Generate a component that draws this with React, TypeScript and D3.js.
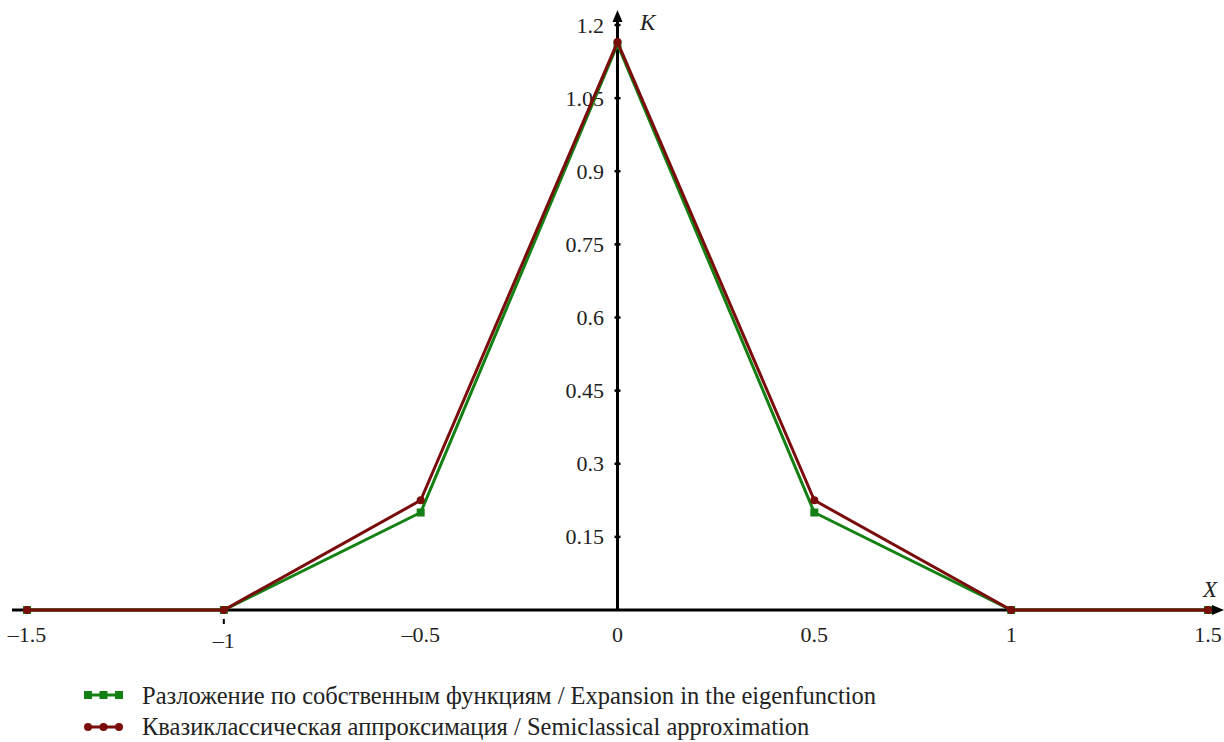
import * as d3 from "d3";

const xValues = [-1.5, -1, -0.5, 0, 0.5, 1, 1.5];
const eigenValues = [0, 0, 0.2, 1.16, 0.2, 0, 0];
const semiValues = [0, 0, 0.225, 1.165, 0.225, 0, 0];
const xTicks = [-1.5, -1, -0.5, 0, 0.5, 1, 1.5];
const yTicks = [0.15, 0.3, 0.45, 0.6, 0.75, 0.9, 1.05, 1.2];
const legendLabels = [
  "Разложение по собственным функциям / Expansion in the eigenfunction",
  "Квазиклассическая аппроксимация / Semiclassical approximation",
];

const width = 1224;
const height = 742;
const green = "#138013";
const red = "#7a0c0c";
const font = "Liberation Serif, DejaVu Serif, serif";

const fmt = (v: number) => (v < 0 ? "\u2013" + String(-v) : String(v));

export default function App() {
  const x = d3.scaleLinear().domain([-1.5, 1.5]).range([27, 1208]);
  const y = d3.scaleLinear().domain([0, 1.2]).range([610, 25]);

  const line = d3
    .line<number>()
    .x((_, i) => x(xValues[i]))
    .y((d) => y(d));

  const x0 = x(0);
  const y0 = y(0);

  return (
    <svg
      width={width}
      height={height}
      style={{ position: "absolute", left: 0, top: 0, background: "#fff", fontFamily: font }}
    >
      {/* x axis */}
      <line x1={12} x2={1214} y1={y0} y2={y0} stroke="#000" strokeWidth={3} />
      <path d={`M1224,${y0} L1212,${y0 - 5} L1212,${y0 + 5} Z`} fill="#000" />
      {/* y axis */}
      <line x1={x0} x2={x0} y1={y0} y2={18} stroke="#000" strokeWidth={3} />
      <path d={`M${x0},10 L${x0 - 5},22 L${x0 + 5},22 Z`} fill="#000" />

      {yTicks.map((t) => (
        <g key={t}>
          <line x1={x0 - 3} x2={x0 + 3} y1={y(t)} y2={y(t)} stroke="#000" strokeWidth={2.5} />
          <text
            x={604}
            y={y(t)}
            textAnchor="end"
            dominantBaseline="central"
            fontSize={22}
            fill="#222"
          >
            {fmt(t)}
          </text>
        </g>
      ))}

      {xTicks.map((t) => (
        <text
          key={t}
          x={x(t)}
          y={t === -1 ? 648 : 642}
          textAnchor="middle"
          fontSize={22}
          fill="#222"
        >
          {fmt(t)}
        </text>
      ))}
      <line x1={x(-1)} x2={x(-1)} y1={619} y2={624} stroke="#000" strokeWidth={2} />

      <text x={640} y={30} fontSize={23} fontStyle="italic" fill="#222">
        K
      </text>
      <text x={1203} y={597} fontSize={23} fontStyle="italic" fill="#222">
        X
      </text>

      {/* eigenfunction series */}
      <path d={line(eigenValues) ?? ""} fill="none" stroke={green} strokeWidth={3} />
      {eigenValues.map((v, i) => (
        <rect key={i} x={x(xValues[i]) - 4} y={y(v) - 4} width={8} height={8} fill={green} />
      ))}

      {/* semiclassical series */}
      <path d={line(semiValues) ?? ""} fill="none" stroke={red} strokeWidth={3} />
      {semiValues.map((v, i) => (
        <circle key={i} cx={x(xValues[i])} cy={y(v)} r={4} fill={red} />
      ))}

      {/* legend */}
      <g>
        <line x1={86} x2={121} y1={695} y2={695} stroke={green} strokeWidth={3} />
        {[88, 103.5, 119].map((cx) => (
          <rect key={cx} x={cx - 4} y={691} width={8} height={8} fill={green} />
        ))}
        <text x={142} y={704} fontSize={24.5} fill="#222">
          {legendLabels[0]}
        </text>
        <line x1={86} x2={121} y1={727} y2={727} stroke={red} strokeWidth={3} />
        {[88, 103.5, 119].map((cx) => (
          <circle key={cx} cx={cx} cy={727} r={4} fill={red} />
        ))}
        <text x={142} y={735} fontSize={24.5} fill="#222">
          {legendLabels[1]}
        </text>
      </g>
    </svg>
  );
}
